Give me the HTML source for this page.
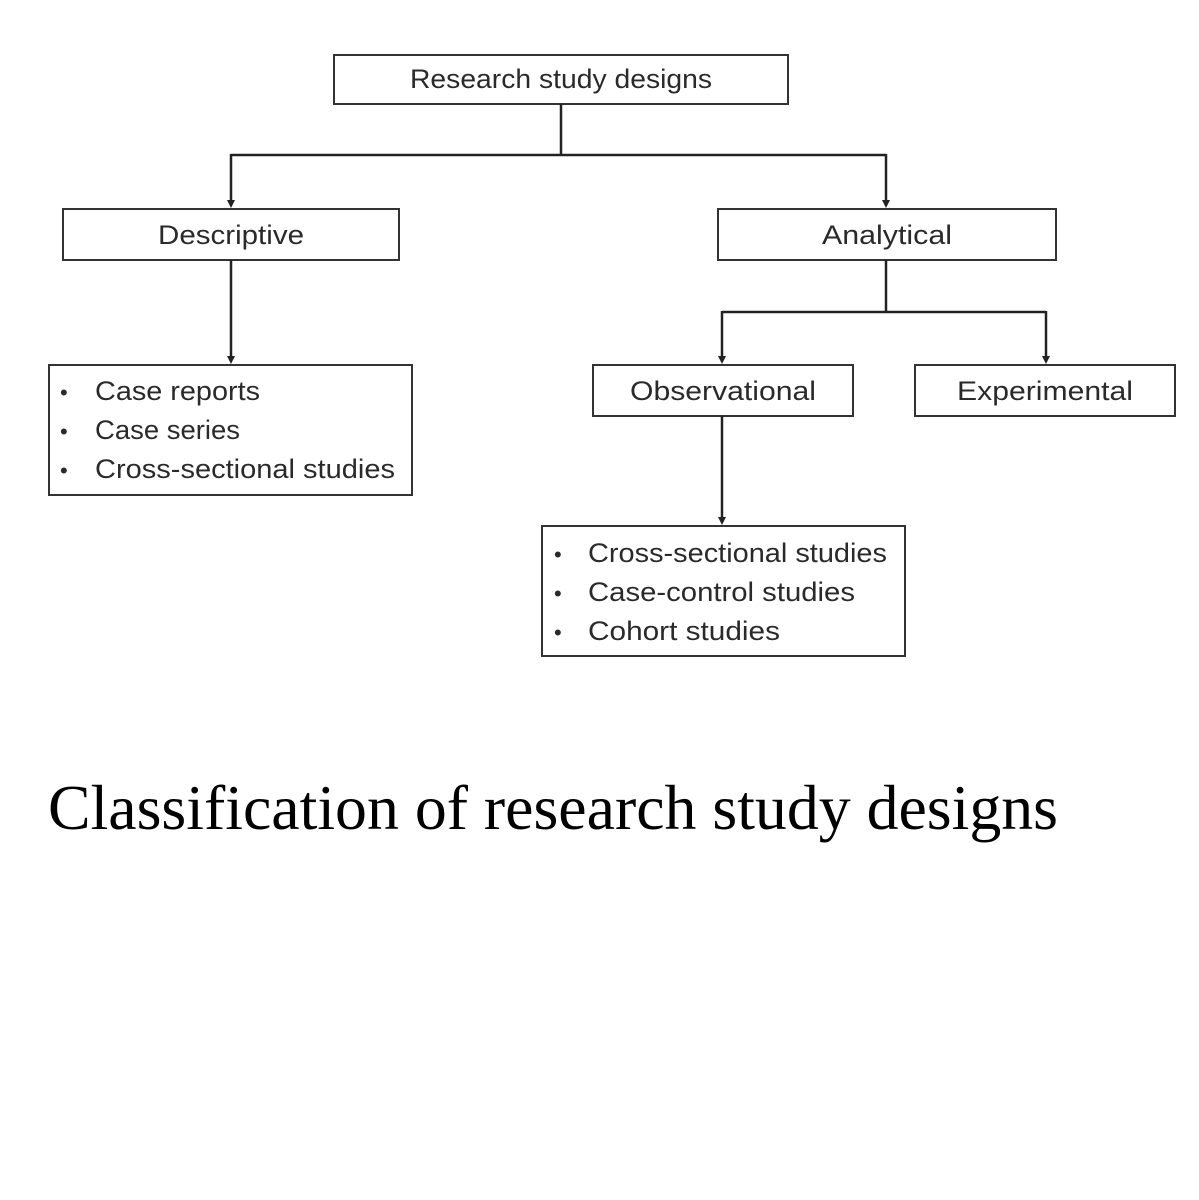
<!DOCTYPE html>
<html><head><style>
html,body{margin:0;padding:0;background:#fff;}
svg{display:block}
.b{fill:#fff;stroke:#333;stroke-width:2}
.l{stroke:#222;stroke-width:2.5;fill:none}
.t{font-family:"Liberation Sans",sans-serif;font-size:27px;fill:#2a2a2a}
.ar{fill:#222}
</style></head><body>
<svg width="1199" height="1200" viewBox="0 0 1199 1200">
<rect class="b" x="334" y="55" width="454" height="49"/>
<text class="t" x="561" y="88" text-anchor="middle" textLength="302" lengthAdjust="spacingAndGlyphs">Research study designs</text>
<path class="l" d="M561,104 V155 M231,155 H886 M231,154 V201 M886,154 V201"/>
<path class="ar" d="M227,200 H235 L231,208 Z M882,200 H890 L886,208 Z"/>
<rect class="b" x="63" y="209" width="336" height="51"/>
<text class="t" x="231" y="244" text-anchor="middle" textLength="146" lengthAdjust="spacingAndGlyphs">Descriptive</text>
<rect class="b" x="718" y="209" width="338" height="51"/>
<text class="t" x="887" y="244" text-anchor="middle" textLength="130" lengthAdjust="spacingAndGlyphs">Analytical</text>
<path class="l" d="M231,260 V357"/>
<path class="ar" d="M227,356 H235 L231,364 Z"/>
<rect class="b" x="49" y="365" width="363" height="130"/>
<g class="t"><text x="60" y="400" font-size="22">•</text><text x="95" y="400" textLength="165" lengthAdjust="spacingAndGlyphs">Case reports</text>
<text x="60" y="439" font-size="22">•</text><text x="95" y="439" textLength="145" lengthAdjust="spacingAndGlyphs">Case series</text>
<text x="60" y="478" font-size="22">•</text><text x="95" y="478" textLength="300" lengthAdjust="spacingAndGlyphs">Cross-sectional studies</text></g>
<path class="l" d="M886,260 V312 M722,312 H1046 M722,311 V357 M1046,311 V357"/>
<path class="ar" d="M718,356 H726 L722,364 Z M1042,356 H1050 L1046,364 Z"/>
<rect class="b" x="593" y="365" width="260" height="51"/>
<text class="t" x="723" y="400" text-anchor="middle" textLength="186" lengthAdjust="spacingAndGlyphs">Observational</text>
<rect class="b" x="915" y="365" width="260" height="51"/>
<text class="t" x="1045" y="400" text-anchor="middle" textLength="176" lengthAdjust="spacingAndGlyphs">Experimental</text>
<path class="l" d="M722,416 V518"/>
<path class="ar" d="M718,517 H726 L722,525 Z"/>
<rect class="b" x="542" y="526" width="363" height="130"/>
<g class="t"><text x="554" y="562" font-size="22">•</text><text x="588" y="562" textLength="299" lengthAdjust="spacingAndGlyphs">Cross-sectional studies</text>
<text x="554" y="601" font-size="22">•</text><text x="588" y="601" textLength="267" lengthAdjust="spacingAndGlyphs">Case-control studies</text>
<text x="554" y="640" font-size="22">•</text><text x="588" y="640" textLength="192" lengthAdjust="spacingAndGlyphs">Cohort studies</text></g>
<text x="48" y="829" font-family="Liberation Serif,serif" font-size="64" fill="#000" textLength="1010" lengthAdjust="spacingAndGlyphs">Classification of research study designs</text>
</svg>
</body></html>
